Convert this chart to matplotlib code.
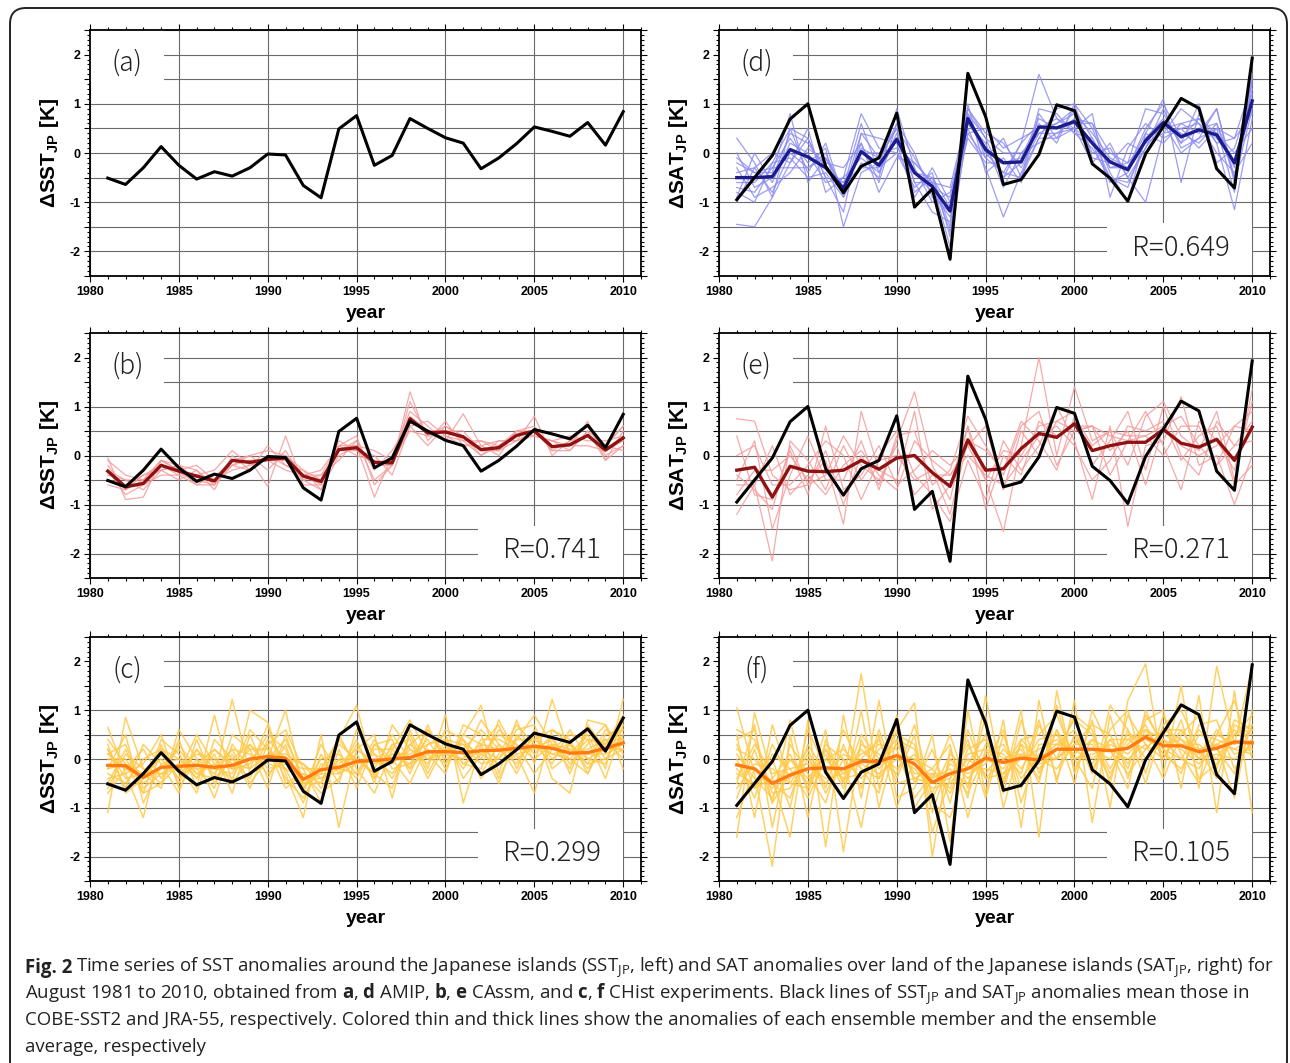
import matplotlib
matplotlib.use("Agg")
import matplotlib.pyplot as plt
from matplotlib.patches import FancyBboxPatch, Rectangle
from matplotlib.ticker import MultipleLocator, FuncFormatter
from matplotlib.transforms import IdentityTransform

plt.rcParams["axes.unicode_minus"] = False
plt.rcParams["mathtext.fontset"] = "custom"
plt.rcParams["mathtext.rm"] = "Open Sans"
plt.rcParams["mathtext.bf"] = "Open Sans:bold"

years = list(range(1981, 2011))

# observations (COBE-SST2 / JRA-55)
obs_sst = [-0.51, -0.64, -0.30, 0.13, -0.25, -0.53, -0.38, -0.47, -0.30, -0.02,
           -0.04, -0.66, -0.91, 0.49, 0.76, -0.25, -0.05, 0.70, 0.50, 0.31,
           0.20, -0.32, -0.10, 0.19, 0.53, 0.44, 0.34, 0.62, 0.16, 0.84]
obs_sat = [-0.95, -0.50, -0.05, 0.69, 1.00, -0.27, -0.81, -0.27, -0.10, 0.81,
           -1.10, -0.73, -2.16, 1.62, 0.74, -0.64, -0.54, -0.03, 0.98, 0.86,
           -0.22, -0.51, -0.98, -0.02, 0.54, 1.11, 0.91, -0.32, -0.71, 1.93]

# ensemble means
mean_amip_sat = [-0.50, -0.50, -0.48, 0.07, -0.08, -0.30, -0.72, 0.03, -0.25, 0.28,
                 -0.40, -0.68, -1.18, 0.70, 0.07, -0.20, -0.18, 0.53, 0.51, 0.64,
                 0.20, -0.18, -0.34, 0.25, 0.62, 0.33, 0.47, 0.37, -0.20, 1.06]
mean_cassm_sst = [-0.32, -0.64, -0.57, -0.20, -0.32, -0.42, -0.52, -0.10, -0.14, -0.08,
                  -0.05, -0.42, -0.53, 0.12, 0.16, -0.14, -0.15, 0.75, 0.46, 0.48,
                  0.38, 0.12, 0.16, 0.41, 0.50, 0.18, 0.22, 0.41, 0.11, 0.36]
mean_cassm_sat = [-0.30, -0.24, -0.85, -0.22, -0.32, -0.33, -0.30, -0.10, -0.28, -0.05,
                  0.00, -0.35, -0.63, 0.32, -0.30, -0.27, 0.14, 0.45, 0.37, 0.65,
                  0.10, 0.20, 0.27, 0.27, 0.53, 0.25, 0.17, 0.33, -0.10, 0.58]
mean_chist_sst = [-0.13, -0.14, -0.38, -0.17, -0.15, -0.13, -0.17, -0.13, 0.00, 0.05,
                  0.02, -0.42, -0.22, -0.17, -0.05, -0.03, 0.00, 0.03, 0.15, 0.15,
                  0.13, 0.17, 0.18, 0.22, 0.26, 0.22, 0.12, 0.13, 0.22, 0.33]
mean_chist_sat = [-0.12, -0.20, -0.50, -0.33, -0.20, -0.18, -0.20, -0.05, -0.05, 0.07,
                  -0.10, -0.48, -0.30, -0.20, 0.02, -0.07, 0.02, -0.02, 0.20, 0.20,
                  0.20, 0.17, 0.22, 0.45, 0.27, 0.27, 0.15, 0.22, 0.35, 0.33]

# ensemble members
members_amip_sat = [
    [-1.45, -1.50, -0.90, -0.20, 0.30, -0.50, -1.20, 0.40, -0.10, 0.50, -0.80, -0.50, -1.50, 0.90, 0.30, -0.50, 0.20, 1.60, 0.70, 0.40, 0.10, -0.50, -0.60, 0.10, 0.90, 0.10, 0.30, 0.90, -0.50, 1.60],
    [0.30, -0.20, -0.90, 0.50, -0.40, 0.20, -0.90, -0.20, -0.50, 0.90, -0.30, -1.00, -0.80, 0.50, -0.30, -1.30, -0.40, 0.30, 0.90, 1.00, 0.50, -0.40, -1.00, 0.40, 1.10, -0.60, 0.80, 0.20, -1.15, 0.70],
    [-1.00, -0.30, 0.00, -0.20, 0.50, -0.80, -0.50, 0.80, 0.10, 0.00, -0.70, -0.40, -1.70, 1.00, -0.40, -0.10, -0.60, 0.80, 0.30, 0.50, 0.80, -0.90, 0.10, 0.60, 0.30, 0.50, 0.10, 0.50, 0.30, 1.40],
    [-0.70, -0.80, -0.30, 0.30, -0.20, 0.10, -1.50, -0.40, -0.20, 0.60, 0.00, -0.90, -1.20, 0.40, 0.50, 0.10, 0.30, 0.50, 0.60, 0.90, 0.00, 0.10, -0.50, -1.00, 0.40, 0.90, 0.60, 0.00, -0.40, 0.20],
    [-0.30, -0.90, -0.70, -0.40, 0.10, -0.20, -0.30, 0.20, -0.80, -0.10, -0.20, -0.60, -1.90, 0.60, 0.20, -0.70, 0.00, 0.20, 0.40, 0.70, 0.60, 0.00, -0.20, 0.90, 0.80, 0.20, 1.00, -0.20, 0.10, 1.20],
    [-0.20, -0.40, -0.40, 0.80, -0.60, -0.10, -0.80, 0.40, 0.30, 0.20, -0.90, -0.30, -1.00, 0.80, -0.10, 0.30, -0.50, 0.90, 0.80, 0.40, 0.30, -0.50, -0.70, 0.30, 0.50, 0.60, 0.40, 0.90, -0.60, 0.90],
    [-0.90, 0.00, -0.60, 0.20, 0.00, -0.60, -0.50, -0.10, -0.40, 0.40, -0.60, -1.20, -1.40, 0.70, 0.00, -0.40, 0.20, 0.60, 0.20, 1.00, -0.10, -0.20, 0.20, 0.00, 0.60, 0.40, 0.20, 0.60, -0.30, 1.00],
    [-0.60, -0.60, -0.20, -0.10, -0.50, -0.40, -0.90, 0.10, -0.10, 0.50, -0.10, -0.70, -0.90, 0.90, 0.40, 0.20, -0.30, 0.40, 0.60, 0.80, 0.40, -0.10, -0.30, 0.50, 1.00, 0.30, 0.70, 0.40, 0.00, 0.50],
    [0.00, -0.70, -0.50, 0.40, 0.20, -0.30, -0.60, -0.30, -0.30, 0.00, -0.40, -0.50, -1.10, 0.30, -0.20, -0.20, -0.10, 0.70, 0.50, 0.60, 0.60, -0.30, -0.20, 0.20, 0.40, 0.50, 0.60, 0.30, -0.20, 1.30],
    [-0.40, -0.30, -0.80, 0.00, -0.30, -0.10, -0.70, 0.60, -0.40, 0.30, -0.40, -0.80, -1.30, 0.60, 0.10, -0.50, -0.20, 0.50, 0.70, 0.50, 0.20, -0.60, -0.40, 0.30, 0.70, 0.20, 0.50, 0.60, -0.50, 1.10],
    [-0.80, -1.00, -0.20, 0.50, 0.30, -0.50, -0.60, 0.00, 0.00, 0.10, -0.20, -0.60, -0.70, 0.80, 0.30, 0.00, 0.00, 0.40, 0.40, 0.50, -0.20, 0.20, -0.50, 0.10, 0.60, 0.00, 0.30, 0.50, -0.80, 1.50],
    [-0.10, -0.40, -0.30, -0.30, -0.30, 0.00, -0.80, 0.20, -0.60, 0.60, -0.60, -0.60, -1.60, 0.40, -0.10, -0.40, -0.50, 0.30, 0.30, 0.90, 0.30, -0.30, -0.30, 0.40, 0.20, 0.60, 0.70, 0.20, 0.30, 0.80],
]
members_cassm_sst = [
    [-0.05, -0.90, -0.85, -0.10, -0.30, -0.60, -0.40, -0.20, 0.00, -0.30, 0.10, -0.50, -0.40, 0.20, 0.40, -0.60, -0.20, 1.30, 0.30, 0.70, 0.20, 0.30, 0.10, 0.50, 0.60, 0.10, 0.30, 0.60, 0.00, 0.20],
    [-0.40, -0.50, -0.70, -0.30, -0.20, -0.30, -0.70, 0.00, -0.30, 0.20, -0.20, -0.30, -0.70, 0.00, 0.20, -0.85, 0.00, 0.90, 0.60, 0.30, 0.85, 0.20, 0.30, 0.30, 0.40, 0.30, 0.10, 0.50, 0.20, 0.60],
    [-0.60, -0.70, -0.40, -0.30, -0.50, -0.30, -0.60, -0.20, -0.10, -0.63, 0.40, -0.60, -0.60, 0.30, 0.10, 0.00, -0.40, 0.60, 0.20, 0.60, 0.40, 0.00, 0.20, 0.50, 0.50, 0.20, 0.20, 0.70, -0.10, 0.50],
    [-0.10, -0.40, -0.50, -0.10, -0.20, -0.50, -0.50, -0.30, -0.20, 0.00, -0.10, -0.40, -0.40, -0.10, 0.30, -0.30, 0.10, 0.70, 0.50, 0.50, 0.50, 0.10, 0.10, 0.30, 0.80, 0.00, 0.30, 0.40, 0.20, 0.10],
    [-0.30, -0.80, -0.60, -0.40, -0.40, -0.40, -0.30, 0.10, -0.20, -0.10, -0.10, -0.50, -0.70, 0.20, 0.00, -0.10, -0.20, 1.10, 0.40, 0.60, 0.30, 0.30, 0.20, 0.40, 0.50, 0.20, 0.20, 0.20, 0.10, 0.30],
    [-0.50, -0.60, -0.40, -0.20, -0.40, -0.60, -0.60, -0.10, 0.00, 0.10, 0.00, -0.30, -0.50, 0.10, 0.30, -0.50, -0.20, 0.60, 0.70, 0.40, 0.20, 0.20, 0.00, 0.50, 0.40, 0.30, 0.40, 0.30, 0.30, 0.40],
    [-0.20, -0.70, -0.50, -0.10, -0.30, -0.20, -0.50, -0.20, -0.30, 0.00, -0.20, -0.40, -0.30, 0.20, 0.20, 0.10, -0.10, 0.50, 0.40, 0.40, 0.30, 0.00, 0.30, 0.30, 0.50, 0.10, 0.10, 0.50, -0.10, 0.20],
    [-0.30, -0.50, -0.50, -0.30, -0.20, -0.50, -0.60, -0.10, -0.10, -0.10, -0.30, -0.40, -0.60, 0.10, 0.10, -0.20, -0.20, 0.80, 0.50, 0.50, 0.40, 0.10, 0.10, 0.50, 0.40, 0.30, 0.20, 0.40, 0.20, 0.60],
]
members_cassm_sat = [
    [0.75, 0.70, -0.40, -0.70, -0.60, 0.10, -1.00, 0.00, -0.60, 0.30, 1.30, -0.20, -0.90, 0.60, -0.50, -1.55, 0.20, 2.00, 0.00, 1.40, 0.30, 0.50, -0.20, 0.80, 1.10, 0.40, 0.10, 0.90, -0.50, 1.35],
    [-1.20, -0.60, -2.15, 0.30, -0.10, -0.70, 0.20, -0.50, 0.00, 0.50, -0.40, -0.80, -1.35, -0.10, -0.90, 0.30, -0.30, 0.20, 1.00, 0.30, -0.90, 0.60, -1.45, 0.20, 0.30, 1.20, -0.20, 0.00, -1.00, 0.00],
    [-0.50, 0.30, -1.50, -0.40, 0.40, -0.50, -0.50, 0.30, -0.70, 0.40, 0.50, -0.60, -0.30, 0.80, 0.20, -0.40, 0.60, 0.90, -0.20, 0.50, 0.60, 0.10, 0.50, -0.60, 0.60, 0.80, 0.20, -0.20, 0.60, 0.90],
    [0.40, -0.80, -0.90, 0.10, -0.80, 0.60, -0.70, -0.40, 0.20, -0.60, -0.30, 0.10, -0.20, 0.20, 0.60, -0.70, 0.50, 0.00, 0.70, 0.90, -0.20, 0.30, 0.90, -0.30, 1.00, 0.00, -0.40, 0.70, 0.20, 0.30],
    [-0.80, -0.30, -0.30, 0.00, -0.50, -0.10, -1.40, 0.90, -0.30, -0.50, 0.90, -1.10, -0.60, 0.60, -1.10, 0.00, -0.40, 0.70, 0.40, 0.60, 0.60, -0.40, 0.30, 0.90, 0.20, -0.70, 0.70, 0.30, -0.30, 1.10],
    [0.00, 0.20, -0.60, -0.60, -0.20, 0.30, 0.00, -0.90, -0.10, 0.00, -0.50, -0.30, -1.20, 0.30, 0.10, -0.30, 0.70, 0.30, -0.30, 0.80, 0.20, 0.50, 0.40, 0.40, 0.00, 0.60, 0.60, -0.20, 0.20, 0.70],
    [-0.40, -0.70, -1.10, 0.20, -0.60, -0.40, 0.40, -0.20, -0.50, 0.20, -0.80, -0.40, -0.40, 0.00, -0.40, -0.60, -0.10, 0.40, 0.60, 0.20, -0.50, -0.10, 0.60, 0.50, 0.70, -0.10, 0.40, 0.60, -0.60, -0.20],
    [-0.60, -0.60, 0.20, -0.80, -0.40, -0.80, -0.20, 0.10, -0.40, -0.70, 0.30, -0.10, -0.40, 0.20, -0.50, 0.10, 0.00, 0.60, 0.70, 0.50, 0.60, 0.40, 0.30, 0.40, 0.60, 0.20, 0.00, 0.20, 0.60, 0.50],
]
members_chist_sst = [
    [0.65, -0.30, -1.20, 0.30, -0.50, 0.20, -0.40, 1.22, -0.30, 0.00, 1.00, -0.60, -0.20, 0.40, 1.10, -0.40, 0.30, -0.20, 0.70, -0.10, 0.50, 1.10, -0.30, 0.80, -0.10, 1.22, 0.10, 0.50, -0.20, 1.22],
    [-1.10, 0.85, -0.20, -0.50, 0.40, -0.60, 0.90, -0.50, 1.00, 0.75, -0.30, -1.20, 0.50, -1.40, 0.20, 0.50, -0.80, 0.60, -0.20, 0.90, -0.90, 0.30, 0.70, -0.20, 0.60, -0.40, -0.70, 0.80, 0.70, -0.20],
    [0.20, -0.60, 0.30, -0.10, -0.70, 0.40, -0.50, 0.10, -0.60, 0.30, 0.60, -0.20, -0.90, 0.20, -0.60, 0.30, 0.40, -0.30, 0.50, 0.30, -0.10, -0.20, 0.80, 0.10, -0.70, 0.60, 0.40, -0.30, 0.50, 0.60],
    [-0.50, 0.20, -0.70, 0.40, 0.10, -0.40, 0.10, -0.70, 0.50, -0.40, 0.30, -0.70, 0.30, -0.30, 0.40, -0.50, 0.70, 0.20, -0.10, 0.60, 0.40, -0.40, 0.10, 0.70, 0.30, -0.10, 0.60, 0.00, -0.10, 0.80],
    [0.40, -0.10, -0.30, -0.60, 0.60, 0.00, -0.80, 0.30, -0.20, 0.70, -0.50, -0.30, -0.50, 0.50, -0.20, -0.70, 0.20, 0.80, 0.10, -0.30, 0.70, 0.50, -0.40, 0.40, 0.90, 0.30, -0.20, 0.70, 0.20, 0.20],
    [-0.30, -0.50, 0.00, 0.20, -0.30, 0.50, -0.10, -0.40, 0.30, -0.10, -0.20, -0.90, 0.10, -0.50, 0.60, 0.10, -0.40, 0.30, 0.60, 0.10, 0.00, 0.80, 0.30, -0.30, 0.40, 0.60, 0.30, -0.10, 0.60, 0.40],
    [0.10, 0.30, -0.60, -0.30, -0.10, -0.70, 0.40, 0.00, -0.40, 0.40, 0.00, -0.10, -0.60, 0.00, -0.40, 0.30, 0.00, -0.50, 0.30, 0.50, -0.40, 0.10, 0.50, 0.30, -0.30, 0.20, 0.50, 0.40, -0.40, 0.70],
    [-0.70, -0.20, 0.20, -0.40, 0.30, -0.20, -0.60, 0.50, 0.20, -0.60, 0.50, -0.50, -0.30, 0.30, 0.00, -0.30, -0.60, 0.50, -0.30, 0.40, 0.30, -0.10, 0.00, 0.60, 0.70, -0.20, 0.10, 0.20, 0.40, 0.00],
    [0.30, -0.70, -0.40, 0.10, -0.40, 0.20, -0.20, -0.30, 0.60, 0.20, -0.60, -0.30, -0.70, -0.40, 0.30, -0.20, 0.50, 0.00, 0.40, -0.20, 0.50, 0.30, -0.50, 0.50, 0.10, 0.50, -0.30, 0.60, 0.00, 0.50],
    [-0.20, 0.50, -0.90, -0.10, 0.00, -0.40, 0.20, -0.20, -0.10, 0.50, 0.20, -0.60, 0.00, 0.10, -0.30, 0.40, -0.20, -0.10, 0.60, 0.00, 0.20, 0.60, 0.20, -0.10, 0.50, 0.00, 0.30, -0.20, 0.30, 0.90],
    [-0.40, -0.30, -0.10, 0.50, -0.60, 0.00, -0.30, 0.20, -0.50, 0.00, 0.40, -0.40, -0.40, -0.20, 0.10, -0.40, 0.30, 0.40, -0.40, 0.30, -0.20, 0.40, 0.40, 0.20, 0.20, 0.40, -0.10, 0.30, 0.70, 0.10],
    [0.00, 0.00, -0.50, -0.20, 0.20, -0.30, -0.40, 0.00, 0.30, -0.20, -0.10, -0.20, -0.20, 0.40, -0.10, 0.00, -0.30, 0.20, 0.00, 0.20, 0.10, -0.30, 0.30, 0.00, 0.30, 0.10, 0.20, 0.10, 0.10, 0.30],
    [-0.60, 0.10, -0.20, -0.30, -0.20, 0.10, 0.00, -0.50, 0.00, 0.30, -0.40, -0.80, -0.10, -0.20, -0.30, 0.20, 0.20, -0.20, 0.20, -0.10, 0.40, 0.00, 0.60, 0.30, 0.00, 0.30, 0.00, -0.30, 0.40, 0.40],
    [0.20, -0.40, -0.30, 0.00, -0.40, -0.10, 0.20, -0.10, -0.20, 0.10, 0.10, -0.10, -0.40, -0.10, 0.20, -0.10, 0.10, 0.10, 0.30, 0.40, -0.10, 0.20, 0.00, 0.40, 0.40, 0.10, 0.00, 0.40, 0.30, 0.60],
    [-0.20, -0.10, -0.70, -0.50, -0.10, -0.20, -0.20, 0.20, 0.10, -0.30, 0.00, -0.50, -0.50, 0.00, 0.00, -0.30, 0.10, -0.10, 0.10, 0.20, 0.30, 0.10, -0.10, 0.10, 0.20, 0.30, 0.20, -0.10, 0.00, 0.20],
    [0.10, -0.20, -0.40, 0.20, 0.00, -0.30, -0.10, -0.20, 0.20, 0.20, -0.20, -0.40, -0.30, -0.30, -0.10, 0.10, -0.10, 0.30, 0.00, 0.10, 0.00, 0.30, 0.20, 0.20, 0.30, 0.20, 0.30, 0.00, 0.20, 0.40],
]
members_chist_sat = [
    [1.05, -0.30, -2.20, 0.50, -1.20, 0.40, -0.50, 1.75, -0.60, 0.60, 1.15, -2.00, 0.20, -0.80, 1.30, -0.50, 1.00, -1.60, 1.40, -0.30, 0.80, -1.00, 1.20, 1.95, -0.30, 1.50, -0.60, 1.90, 0.30, 1.90],
    [-1.60, 0.95, -0.40, -1.60, 0.80, -1.80, 0.90, -0.80, 1.20, -0.80, -0.60, 0.50, -1.70, 1.00, -0.70, 0.80, -1.40, 1.20, -0.50, 1.20, -1.30, 0.90, -0.40, 0.80, 1.00, -0.60, 1.30, -1.10, 1.40, -1.10],
    [0.50, -1.20, 0.70, -0.50, -0.60, 0.60, -1.90, 0.40, -0.40, 0.90, -1.00, -0.40, 0.50, -0.60, 0.90, -1.00, 0.40, 0.50, 0.90, 0.00, -0.60, 1.10, 0.60, -0.50, 0.70, 1.00, 0.20, 0.30, -0.80, 1.00],
    [-0.50, 0.70, -1.40, 0.30, -0.30, -0.90, 0.30, -0.60, 0.60, -0.40, 0.50, -1.50, -0.40, 0.40, -0.80, 0.50, -0.60, 0.70, 0.00, 0.90, 0.60, -0.50, 0.90, 0.30, -0.40, 0.50, 0.90, -0.20, 0.80, 0.60],
    [0.30, -0.60, 0.00, -1.00, 0.60, -0.20, -0.80, 1.00, -1.00, 0.40, 0.20, -0.90, -1.20, -0.10, 0.50, -0.70, 0.80, -0.30, 0.60, -0.50, 1.00, 0.20, -0.60, 1.00, 0.20, -0.30, 0.70, 0.80, -0.20, 0.40],
    [-0.80, 0.20, -0.90, 0.80, -0.70, 0.30, 0.00, -1.40, 0.50, -1.00, 0.00, -0.20, 0.30, -1.20, 0.20, 0.10, -0.30, 0.80, -0.40, 0.50, -0.30, 0.60, 1.00, -0.30, 0.90, 0.10, -0.50, 0.50, 1.20, 0.00],
    [0.00, -0.80, 0.30, -0.40, 0.20, -0.60, 0.60, -0.20, -0.70, 0.80, -0.50, 0.20, -0.90, 0.60, -0.40, -0.30, 0.30, -0.50, 1.10, -0.20, 0.40, -0.30, 0.30, 0.70, 0.00, 0.80, -0.40, -0.10, 0.50, 0.90],
    [-1.20, -0.20, -0.60, 0.00, -0.50, 0.20, -0.50, 0.50, 0.00, -0.30, 0.70, -0.80, -0.10, -0.30, -0.10, 0.60, -0.90, 0.30, 0.30, 0.60, -0.20, 0.40, -0.10, 0.60, 0.40, 0.00, 0.60, 0.20, -0.30, 0.70],
    [0.60, 0.40, -0.70, -0.60, 0.00, -0.50, -0.20, 0.10, 0.30, 0.20, -0.80, -0.30, -0.60, 0.20, 0.40, -0.40, 0.10, -0.20, 0.20, 0.80, 0.50, -0.20, 0.40, 0.20, 0.60, 0.60, 0.00, 0.60, 0.10, 0.20],
    [-0.30, -0.50, 0.10, -0.20, -0.80, 0.00, -0.40, -0.30, 0.20, 0.50, 0.30, -1.10, 0.00, -0.40, 0.00, -0.20, 0.40, 0.00, -0.20, 0.30, 0.70, 0.50, -0.20, 0.90, 0.30, 0.40, 0.20, -0.40, 0.70, 0.50],
    [0.20, 0.00, -0.50, -0.80, 0.30, -0.30, 0.10, -0.10, -0.30, 0.00, -0.20, -0.60, -0.50, 0.00, -0.30, 0.20, -0.20, 0.40, 0.50, 0.00, 0.20, 0.00, 0.50, 0.40, 0.20, 0.00, -0.20, 0.50, 0.30, 0.60],
    [-0.40, 0.30, -0.30, -0.20, -0.10, -0.40, -0.30, 0.20, -0.20, 0.30, -0.30, -0.30, -0.30, -0.50, 0.30, 0.00, 0.10, -0.10, 0.00, 0.40, 0.00, 0.30, 0.10, 0.50, 0.50, 0.30, 0.30, 0.00, 0.60, 0.20],
    [0.10, -0.40, -0.80, 0.00, -0.40, 0.10, -0.60, 0.30, 0.10, -0.20, 0.10, -0.70, 0.10, -0.20, -0.20, -0.30, 0.00, 0.20, 0.40, 0.10, 0.40, 0.20, 0.00, 0.30, 0.00, 0.60, 0.10, 0.30, 0.20, 0.40],
    [-0.60, -0.10, -0.20, -0.50, 0.10, -0.70, 0.00, -0.40, 0.00, 0.40, -0.40, -0.20, -0.70, 0.10, 0.20, -0.50, 0.30, 0.00, 0.30, 0.20, -0.10, 0.40, 0.40, 0.60, 0.10, -0.20, 0.50, 0.40, 0.20, 0.10],
    [0.40, 0.60, -0.90, -0.30, -0.20, 0.00, 0.20, -0.20, -0.40, 0.10, 0.00, -0.40, -0.20, -0.70, 0.10, 0.30, -0.40, 0.10, 0.00, 0.30, 0.30, -0.40, 0.60, 0.00, 0.40, 0.20, -0.10, 0.30, 0.50, 0.70],
    [-0.20, -0.60, -0.40, 0.10, -0.60, 0.20, -0.30, 0.00, 0.40, -0.50, -0.40, -0.50, -0.40, 0.30, -0.40, 0.00, 0.20, -0.40, 0.60, 0.00, 0.10, 0.20, -0.30, 0.20, 0.60, 0.40, 0.00, 0.10, 0.00, 0.30],
]

panel_labels = ["(a)", "(b)", "(c)", "(d)", "(e)", "(f)"]
r_texts = [None, "R=0.741", "R=0.299", "R=0.649", "R=0.271", "R=0.105"]

ylab_sst = "\u0394SST$_{\\mathregular{JP}}$ [K]"
ylab_sat = "\u0394SAT$_{\\mathregular{JP}}$ [K]"

blue_thin, blue_thick = "#8c8cf2", "#1b1b8a"
red_thin, red_thick = "#f59a9a", "#8e1212"
yel_thin, yel_thick = "#ffc94a", "#ff7a10"

W, H = 1290, 1063
fig = plt.figure(figsize=(W / 100, H / 100), dpi=100)

# outer rounded frame
frame = FancyBboxPatch((10, -14), 1277, H - 8 + 14,
                       boxstyle="round,pad=0,rounding_size=16",
                       transform=IdentityTransform(), fill=False,
                       edgecolor="#222222", linewidth=1.4)
fig.patches.append(frame)

col_x = [90, 719]
col_w = 551
rows = [(30, 276), (333, 578), (637, 881)]

panels = [
    # col, row, ylabel, obs, members, mean, thin colour, thick colour, thin width
    (0, 0, ylab_sst, obs_sst, [], None, None, None, 0.9),
    (0, 1, ylab_sst, obs_sst, members_cassm_sst, mean_cassm_sst, red_thin, red_thick, 0.9),
    (0, 2, ylab_sst, obs_sst, members_chist_sst, mean_chist_sst, yel_thin, yel_thick, 1.1),
    (1, 0, ylab_sat, obs_sat, members_amip_sat, mean_amip_sat, blue_thin, blue_thick, 0.9),
    (1, 1, ylab_sat, obs_sat, members_cassm_sat, mean_cassm_sat, red_thin, red_thick, 0.9),
    (1, 2, ylab_sat, obs_sat, members_chist_sat, mean_chist_sat, yel_thin, yel_thick, 1.1),
]

light_font = dict(family=["Noto Sans CJK JP", "DejaVu Sans"], fontweight="light")

for i, (col, row, ylab, obs, members, mean, c_thin, c_thick, lw_thin) in enumerate(panels):
    top, bot = rows[row]
    ax = fig.add_axes([col_x[col] / W, (H - bot) / H, col_w / W, (bot - top) / H])
    ax.set_xlim(1980, 2011)
    ax.set_ylim(-2.5, 2.5)

    ax.xaxis.set_major_locator(MultipleLocator(5))
    ax.xaxis.set_minor_locator(MultipleLocator(1))
    ax.yaxis.set_major_locator(MultipleLocator(0.5))
    ax.yaxis.set_minor_locator(MultipleLocator(0.1))
    ax.yaxis.set_major_formatter(
        FuncFormatter(lambda v, p: f"{int(round(v))}" if abs(v - round(v)) < 1e-6 else ""))
    ax.grid(True, which="major", color="#6a6a6a", linewidth=0.8)
    ax.set_axisbelow(True)
    ax.tick_params(which="both", direction="out", top=True, right=True, width=0.8,
                   labelsize=9, pad=3)
    ax.tick_params(which="major", length=4)
    ax.tick_params(which="minor", length=2)
    for lab in ax.get_xticklabels() + ax.get_yticklabels():
        lab.set_fontfamily("Liberation Sans")
        lab.set_fontweight("bold")
    for sp in ax.spines.values():
        sp.set_linewidth(1.3)

    ax.set_xlabel("year", fontsize=14, fontweight="bold", family="Liberation Sans", labelpad=5)
    ax.set_ylabel(ylab, fontsize=15, fontweight="bold", family="Liberation Sans", labelpad=6)

    # white boxes behind the panel letter and the correlation text
    ax.add_patch(Rectangle((1980, 1.44), 4.15, 1.06, facecolor="white",
                           edgecolor="none", zorder=1))
    ax.text(1982.1, 1.83, panel_labels[i], fontsize=19, ha="center", va="center",
            color="#222222", zorder=6, **light_font)
    if r_texts[i] is not None:
        ax.add_patch(Rectangle((2001.85, -2.5), 8.13, 1.07, facecolor="white",
                               edgecolor="none", zorder=1))
        ax.text(2006.0, -1.93, r_texts[i], fontsize=20, ha="center", va="center",
                color="#222222", zorder=6, **light_font)

    for m in members:
        ax.plot(years, m, color=c_thin, linewidth=lw_thin, alpha=0.85, zorder=2)
    if mean is not None:
        ax.plot(years, mean, color=c_thick, linewidth=2.4, zorder=3)
    ax.plot(years, obs, color="black", linewidth=2.2, zorder=4)

# caption: bold "Fig. 2" first, the rest placed right after it
cap_kw = dict(fontsize=13.4, family="Open Sans", color="#222222", va="center")
renderer = fig.canvas.get_renderer()
fig_lab = fig.text(25 / W, (H - 968) / H, "Fig. 2", fontweight="bold", ha="left", **cap_kw)
lab_right = fig_lab.get_window_extent(renderer).x1

cap_lines = [
    r"Time series of SST anomalies around the Japanese islands "
    r"(SST$_{\mathregular{JP}}$, left) and SAT anomalies over land of the Japanese islands "
    r"(SAT$_{\mathregular{JP}}$, right) for",
    r"August 1981 to 2010, obtained from $\mathbf{a}$, $\mathbf{d}$ AMIP, $\mathbf{b}$, "
    r"$\mathbf{e}$ CAssm, and $\mathbf{c}$, $\mathbf{f}$ CHist experiments. Black lines of "
    r"SST$_{\mathregular{JP}}$ and SAT$_{\mathregular{JP}}$ anomalies mean those in",
    "COBE-SST2 and JRA-55, respectively. Colored thin and thick lines show the anomalies "
    "of each ensemble member and the ensemble",
    "average, respectively",
]
cap_y = [968, 994, 1020, 1047]
cap_x = [lab_right + 4, 25, 25, 25]
for line, xx, yy in zip(cap_lines, cap_x, cap_y):
    fig.text(xx / W, (H - yy) / H, line, ha="left", **cap_kw)

fig.savefig("out.png", dpi=100)
